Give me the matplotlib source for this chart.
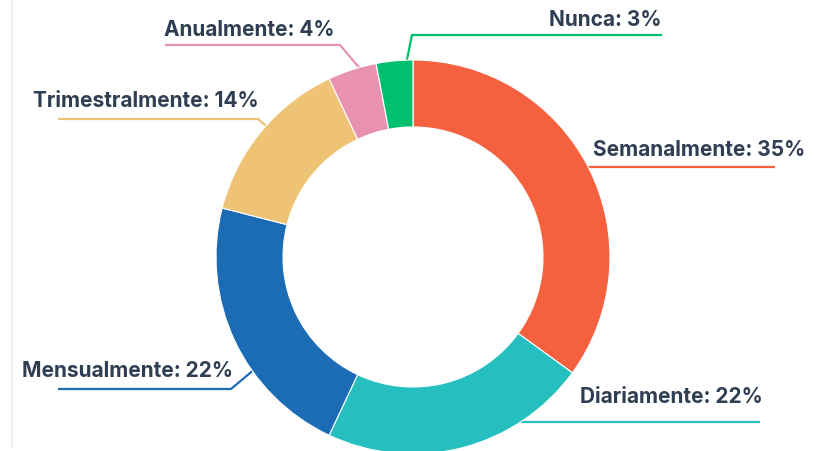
import matplotlib.pyplot as plt

# survey answers, clockwise from 12 o'clock
categories = ['Semanalmente', 'Diariamente', 'Mensualmente', 'Trimestralmente', 'Anualmente', 'Nunca']
values = [35, 22, 22, 14, 4, 3]
colors = ['#F5603F', '#26BFBF', '#1B6CB4', '#EEC375', '#E891B0', '#00BF6F']

W, H = 827, 452
text_color = '#2F3E52'

# leader line geometry in pixel coords (y down): start on ring, elbow, end of horizontal run
# plus label anchor (x, baseline y, alignment)
leaders = {
    'Semanalmente':    dict(pts=[(560, 168), (588, 168), (775, 168)], txt=(593, 156, 'left')),
    'Diariamente':     dict(pts=[(470, 423), (517, 423), (760, 423)], txt=(580, 403, 'left')),
    'Mensualmente':    dict(pts=[(262, 364), (231, 390), (58, 390)], txt=(22, 377, 'left')),
    'Trimestralmente': dict(pts=[(272, 132), (258, 120), (58, 120)], txt=(33, 107, 'left')),
    'Anualmente':      dict(pts=[(362, 72), (340, 46), (165, 46)], txt=(164, 36, 'left')),
    'Nunca':           dict(pts=[(405, 70), (412, 36), (662, 36)], txt=(662, 26, 'right')),
}


def fy(y):
    return H - y


fig = plt.figure(figsize=(W / 100, H / 100), dpi=100)
ax = fig.add_axes([0, 0, 1, 1])

ax.pie(values, colors=colors, startangle=90, counterclock=False,
       center=(413, fy(258)), radius=197,
       wedgeprops=dict(width=67, edgecolor='white', linewidth=0.8),
       frame=False)

for cat, col in zip(categories, colors):
    info = leaders[cat]
    xs = [p[0] for p in info['pts']]
    ys = [fy(p[1]) for p in info['pts']]
    ax.plot(xs, ys, color=col, lw=1.6, zorder=0.5, solid_capstyle='butt')
    pct = values[categories.index(cat)]
    tx, ty, ha = info['txt']
    ax.text(tx, fy(ty), f'{cat}: {pct}%', ha=ha, va='baseline',
            fontsize=15, fontweight='bold', color=text_color,
            family=['Inter', 'DejaVu Sans'])

# thin panel border on the left
ax.plot([11.5, 11.5], [fy(0), fy(448)], color='#EAF0F6', lw=1.6, zorder=0.2)

ax.set_xlim(0, W)
ax.set_ylim(0, H)
ax.set_aspect('equal')
ax.axis('off')

fig.savefig('out.png', dpi=100, facecolor='white')
